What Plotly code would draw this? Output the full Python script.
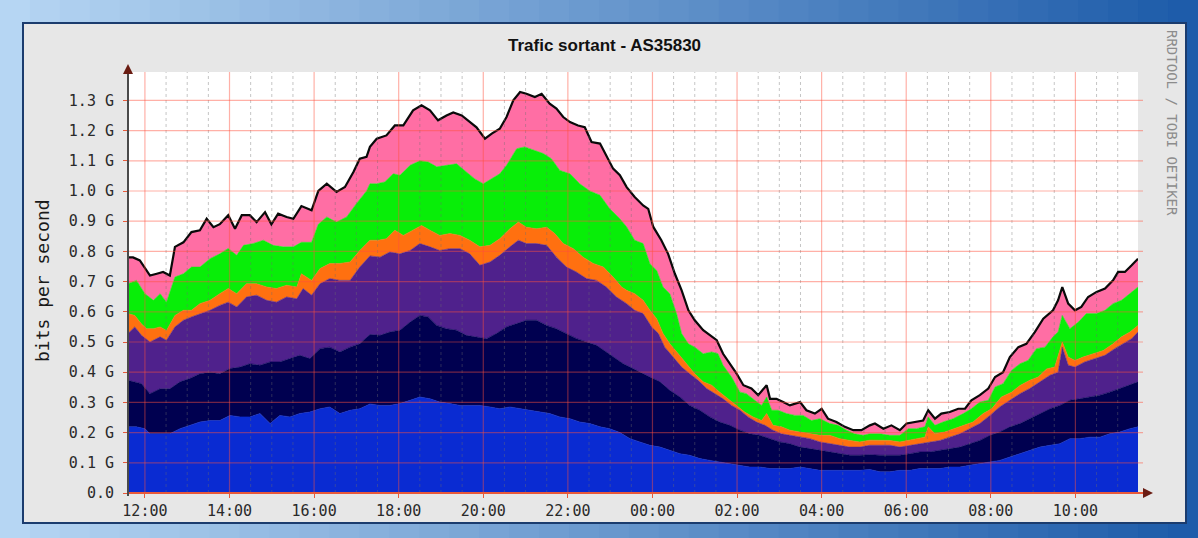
import plotly.graph_objects as go

# ---------------- data (hours after 12:00, values in Gbit/s, cumulative stack tops) -------------
blue_x = [-0.40, -0.20, 0.00, 0.12, 0.36, 0.59, 0.83, 1.06, 1.30, 1.54, 1.77, 2.01, 2.25, 2.48, 2.72, 2.96,
          3.19, 3.43, 3.66, 3.90, 4.14, 4.37, 4.61, 4.85, 5.08, 5.32, 5.56, 5.79, 6.03, 6.27, 6.50, 6.74,
          6.97, 7.21, 7.45, 7.68, 7.92, 8.16, 8.39, 8.63, 8.87, 9.10, 9.34, 9.57, 9.81, 10.05, 10.28, 10.52,
          10.76, 10.99, 11.23, 11.47, 11.70, 11.94, 12.18, 12.41, 12.65, 12.88, 13.12, 13.36, 13.59, 13.83,
          14.07, 14.30, 14.54, 14.78, 15.01, 15.25, 15.49, 15.72, 15.96, 16.19, 16.43, 16.67, 16.90, 17.14,
          17.38, 17.61, 17.85, 18.09, 18.32, 18.56, 18.80, 19.03, 19.27, 19.50, 19.74, 19.98, 20.21, 20.45,
          20.69, 20.92, 21.16, 21.40, 21.63, 21.87, 22.10, 22.34, 22.58, 22.81, 23.05, 23.29, 23.48]
blue_y = [0.219, 0.219, 0.213, 0.196, 0.196, 0.196, 0.213, 0.224, 0.235, 0.240, 0.240, 0.257, 0.252, 0.252,
          0.263, 0.230, 0.257, 0.252, 0.263, 0.268, 0.279, 0.285, 0.263, 0.274, 0.279, 0.295, 0.290, 0.290,
          0.296, 0.307, 0.318, 0.312, 0.301, 0.296, 0.290, 0.290, 0.290, 0.285, 0.279, 0.285, 0.279, 0.274,
          0.268, 0.263, 0.252, 0.246, 0.235, 0.230, 0.219, 0.213, 0.200, 0.180, 0.169, 0.158, 0.152, 0.141,
          0.130, 0.125, 0.114, 0.108, 0.103, 0.097, 0.092, 0.086, 0.086, 0.081, 0.081, 0.081, 0.086, 0.081,
          0.075, 0.075, 0.075, 0.075, 0.075, 0.078, 0.070, 0.070, 0.075, 0.075, 0.081, 0.081, 0.081, 0.086,
          0.086, 0.092, 0.097, 0.103, 0.108, 0.119, 0.130, 0.141, 0.152, 0.158, 0.163, 0.180, 0.180, 0.185,
          0.185, 0.196, 0.202, 0.213, 0.219]

navy_x = [-0.40, -0.24, -0.08, 0.12, 0.36, 0.59, 0.83, 1.06, 1.30, 1.54, 1.77, 2.01, 2.25, 2.48, 2.72, 2.96,
          3.19, 3.43, 3.66, 3.90, 4.14, 4.37, 4.61, 4.85, 5.08, 5.32, 5.56, 5.79, 6.03, 6.27, 6.50, 6.70,
          6.90, 7.13, 7.37, 7.60, 7.84, 8.08, 8.31, 8.55, 8.79, 9.02, 9.26, 9.50, 9.73, 9.97, 10.21, 10.44,
          10.68, 10.91, 11.15, 11.31, 11.47, 11.70, 11.94, 12.18, 12.41, 12.65, 12.88, 13.12, 13.36, 13.59,
          13.83, 14.07, 14.30, 14.54, 14.78, 15.01, 15.25, 15.49, 15.72, 15.96, 16.19, 16.43, 16.67, 16.90,
          17.14, 17.38, 17.61, 17.85, 18.09, 18.32, 18.56, 18.80, 19.03, 19.27, 19.50, 19.74, 19.98, 20.21,
          20.45, 20.69, 20.92, 21.16, 21.40, 21.63, 21.87, 22.10, 22.34, 22.58, 22.81, 23.05, 23.29, 23.48]
navy_y = [0.373, 0.368, 0.362, 0.329, 0.345, 0.345, 0.368, 0.379, 0.395, 0.400, 0.395, 0.412, 0.417, 0.428,
          0.423, 0.434, 0.434, 0.445, 0.456, 0.445, 0.478, 0.483, 0.467, 0.483, 0.494, 0.525, 0.522, 0.533,
          0.539, 0.566, 0.588, 0.583, 0.555, 0.544, 0.539, 0.522, 0.517, 0.511, 0.528, 0.550, 0.561, 0.572,
          0.572, 0.555, 0.544, 0.528, 0.511, 0.500, 0.489, 0.467, 0.445, 0.428, 0.417, 0.400, 0.384, 0.368,
          0.340, 0.318, 0.290, 0.274, 0.252, 0.235, 0.224, 0.208, 0.196, 0.191, 0.180, 0.169, 0.163, 0.152,
          0.147, 0.141, 0.136, 0.130, 0.125, 0.125, 0.127, 0.125, 0.125, 0.125, 0.130, 0.136, 0.136, 0.141,
          0.147, 0.152, 0.163, 0.174, 0.191, 0.202, 0.219, 0.230, 0.246, 0.263, 0.279, 0.290, 0.307, 0.312,
          0.318, 0.324, 0.334, 0.346, 0.357, 0.368]

purple_x = [-0.40, -0.24, -0.08, 0.12, 0.36, 0.51, 0.71, 0.91, 1.10, 1.30, 1.54, 1.77, 1.97, 2.17, 2.40, 2.64,
            2.88, 3.11, 3.35, 3.59, 3.74, 3.94, 4.14, 4.37, 4.61, 4.85, 5.08, 5.32, 5.56, 5.79, 6.03, 6.27,
            6.50, 6.74, 6.97, 7.21, 7.45, 7.68, 7.92, 8.16, 8.39, 8.63, 8.83, 9.02, 9.26, 9.50, 9.73, 9.97,
            10.20, 10.44, 10.68, 10.91, 11.15, 11.39, 11.58, 11.78, 11.98, 12.14, 12.29, 12.49, 12.69, 12.88,
            13.08, 13.28, 13.48, 13.67, 13.87, 14.07, 14.26, 14.46, 14.66, 14.85, 15.05, 15.25, 15.49, 15.72,
            15.96, 16.19, 16.43, 16.67, 16.90, 17.14, 17.38, 17.61, 17.85, 18.09, 18.32, 18.56, 18.80, 19.03,
            19.27, 19.50, 19.74, 19.98, 20.21, 20.45, 20.69, 20.92, 21.16, 21.40, 21.59, 21.69, 21.83, 21.99,
            22.22, 22.46, 22.70, 22.93, 23.13, 23.33, 23.48]
purple_y = [0.528, 0.550, 0.522, 0.500, 0.517, 0.506, 0.550, 0.572, 0.583, 0.594, 0.605, 0.621, 0.632, 0.616,
            0.649, 0.655, 0.638, 0.632, 0.649, 0.643, 0.677, 0.655, 0.693, 0.710, 0.704, 0.704, 0.748, 0.785,
            0.781, 0.798, 0.792, 0.803, 0.826, 0.815, 0.803, 0.809, 0.809, 0.792, 0.754, 0.765, 0.787, 0.815,
            0.837, 0.826, 0.826, 0.820, 0.781, 0.748, 0.732, 0.710, 0.704, 0.682, 0.649, 0.627, 0.605, 0.594,
            0.550, 0.528, 0.483, 0.450, 0.417, 0.395, 0.373, 0.346, 0.329, 0.312, 0.290, 0.274, 0.252, 0.235,
            0.224, 0.208, 0.196, 0.191, 0.185, 0.180, 0.169, 0.163, 0.158, 0.152, 0.152, 0.158, 0.158, 0.158,
            0.152, 0.158, 0.163, 0.169, 0.174, 0.185, 0.196, 0.213, 0.230, 0.257, 0.285, 0.307, 0.329, 0.346,
            0.368, 0.390, 0.400, 0.483, 0.423, 0.417, 0.434, 0.445, 0.456, 0.478, 0.494, 0.511, 0.533]

orange_x = [-0.40, -0.24, -0.08, 0.04, 0.20, 0.36, 0.51, 0.71, 0.91, 1.10, 1.30, 1.54, 1.77, 1.97, 2.17, 2.40,
            2.64, 2.88, 3.11, 3.35, 3.59, 3.70, 3.94, 4.14, 4.37, 4.61, 4.85, 5.08, 5.32, 5.52, 5.71, 5.91,
            6.11, 6.34, 6.54, 6.74, 6.97, 7.21, 7.45, 7.68, 7.92, 8.16, 8.39, 8.63, 8.83, 9.02, 9.26, 9.50,
            9.69, 9.89, 10.13, 10.36, 10.60, 10.84, 11.07, 11.27, 11.39, 11.58, 11.78, 11.94, 12.10, 12.25,
            12.41, 12.61, 12.81, 13.00, 13.20, 13.40, 13.59, 13.79, 13.99, 14.18, 14.38, 14.58, 14.70, 14.85,
            15.05, 15.25, 15.48, 15.72, 15.96, 16.19, 16.43, 16.67, 16.90, 17.14, 17.38, 17.61, 17.85, 18.05,
            18.28, 18.44, 18.52, 18.68, 18.91, 19.15, 19.39, 19.58, 19.82, 20.02, 20.25, 20.49, 20.69, 20.92,
            21.12, 21.32, 21.51, 21.69, 21.83, 21.99, 22.18, 22.42, 22.66, 22.89, 23.09, 23.29, 23.48]
orange_y = [0.594, 0.588, 0.560, 0.544, 0.544, 0.550, 0.538, 0.588, 0.605, 0.605, 0.627, 0.638, 0.660, 0.677,
            0.660, 0.693, 0.693, 0.682, 0.677, 0.688, 0.682, 0.726, 0.704, 0.743, 0.760, 0.760, 0.765, 0.803,
            0.837, 0.837, 0.842, 0.870, 0.853, 0.870, 0.886, 0.870, 0.853, 0.859, 0.853, 0.837, 0.815, 0.820,
            0.842, 0.875, 0.897, 0.880, 0.875, 0.880, 0.859, 0.826, 0.809, 0.781, 0.760, 0.748, 0.715, 0.682,
            0.671, 0.660, 0.638, 0.605, 0.577, 0.528, 0.494, 0.461, 0.428, 0.395, 0.368, 0.357, 0.334, 0.312,
            0.290, 0.268, 0.252, 0.240, 0.263, 0.224, 0.219, 0.208, 0.202, 0.196, 0.191, 0.191, 0.180, 0.174,
            0.169, 0.175, 0.174, 0.174, 0.169, 0.174, 0.180, 0.185, 0.219, 0.196, 0.202, 0.213, 0.224, 0.235,
            0.263, 0.279, 0.318, 0.334, 0.356, 0.373, 0.384, 0.411, 0.417, 0.500, 0.450, 0.439, 0.450, 0.461,
            0.472, 0.494, 0.517, 0.533, 0.555]

green_x = [-0.40, -0.20, 0.00, 0.20, 0.36, 0.51, 0.71, 0.91, 1.10, 1.30, 1.54, 1.77, 1.97, 2.17, 2.33, 2.56,
           2.80, 3.03, 3.27, 3.51, 3.70, 3.94, 4.10, 4.30, 4.53, 4.77, 5.00, 5.24, 5.32, 5.48, 5.67, 5.87,
           6.03, 6.27, 6.50, 6.70, 6.90, 7.13, 7.37, 7.60, 7.80, 8.00, 8.20, 8.39, 8.55, 8.79, 8.98, 9.18,
           9.42, 9.61, 9.81, 10.05, 10.28, 10.52, 10.76, 10.99, 11.23, 11.39, 11.58, 11.78, 11.94, 12.10,
           12.25, 12.41, 12.57, 12.69, 12.85, 13.00, 13.20, 13.40, 13.55, 13.67, 13.87, 14.07, 14.22, 14.42,
           14.58, 14.70, 14.82, 14.97, 15.17, 15.37, 15.56, 15.76, 15.96, 16.19, 16.39, 16.59, 16.78, 16.98,
           17.14, 17.38, 17.61, 17.85, 18.05, 18.24, 18.44, 18.52, 18.68, 18.87, 19.11, 19.35, 19.54, 19.74,
           19.94, 20.10, 20.29, 20.49, 20.69, 20.88, 21.08, 21.28, 21.47, 21.59, 21.69, 21.87, 22.07, 22.26,
           22.50, 22.70, 22.89, 23.09, 23.29, 23.48]
green_y = [0.693, 0.704, 0.660, 0.638, 0.660, 0.632, 0.715, 0.726, 0.748, 0.748, 0.776, 0.792, 0.810, 0.787,
           0.820, 0.826, 0.837, 0.820, 0.815, 0.815, 0.830, 0.830, 0.890, 0.914, 0.897, 0.914, 0.958, 1.000,
           1.024, 1.024, 1.030, 1.057, 1.052, 1.085, 1.100, 1.096, 1.080, 1.085, 1.090, 1.063, 1.040, 1.024,
           1.040, 1.057, 1.085, 1.140, 1.146, 1.135, 1.124, 1.107, 1.068, 1.057, 1.024, 1.000, 0.986, 0.941,
           0.908, 0.881, 0.837, 0.826, 0.759, 0.737, 0.682, 0.660, 0.594, 0.528, 0.494, 0.483, 0.461, 0.467,
           0.461, 0.423, 0.384, 0.334, 0.329, 0.307, 0.290, 0.318, 0.274, 0.274, 0.263, 0.257, 0.257, 0.240,
           0.246, 0.230, 0.224, 0.208, 0.196, 0.191, 0.196, 0.196, 0.191, 0.191, 0.213, 0.213, 0.219, 0.252,
           0.224, 0.235, 0.246, 0.263, 0.279, 0.301, 0.307, 0.351, 0.362, 0.406, 0.428, 0.439, 0.478, 0.483,
           0.517, 0.533, 0.588, 0.544, 0.566, 0.594, 0.594, 0.605, 0.627, 0.638, 0.660, 0.682]

total_x = [-0.40, -0.28, -0.12, 0.00, 0.12, 0.28, 0.43, 0.59, 0.71, 0.91, 1.10, 1.30, 1.46, 1.62, 1.77, 1.97,
           2.13, 2.29, 2.48, 2.64, 2.84, 2.99, 3.15, 3.35, 3.51, 3.70, 3.94, 4.10, 4.30, 4.53, 4.73, 4.93,
           5.08, 5.24, 5.32, 5.48, 5.71, 5.91, 6.11, 6.34, 6.54, 6.74, 6.93, 7.13, 7.29, 7.49, 7.68, 7.84,
           8.04, 8.20, 8.39, 8.55, 8.71, 8.87, 9.02, 9.22, 9.38, 9.57, 9.73, 9.89, 10.05, 10.24, 10.40, 10.56,
           10.76, 10.91, 11.07, 11.23, 11.39, 11.58, 11.78, 11.90, 12.02, 12.21, 12.37, 12.53, 12.69, 12.85,
           13.00, 13.20, 13.36, 13.52, 13.67, 13.83, 13.99, 14.15, 14.34, 14.50, 14.70, 14.78, 14.93, 15.09,
           15.25, 15.49, 15.64, 15.84, 16.00, 16.15, 16.35, 16.55, 16.75, 16.94, 17.14, 17.26, 17.46, 17.65,
           17.85, 18.01, 18.24, 18.40, 18.52, 18.68, 18.83, 19.03, 19.23, 19.39, 19.54, 19.74, 19.94, 20.10,
           20.29, 20.45, 20.65, 20.84, 21.04, 21.24, 21.47, 21.59, 21.69, 21.83, 21.99, 22.14, 22.30, 22.50,
           22.70, 22.89, 23.01, 23.17, 23.33, 23.48]
total_y = [0.780, 0.780, 0.770, 0.743, 0.720, 0.726, 0.732, 0.720, 0.815, 0.830, 0.864, 0.870, 0.908, 0.880,
           0.890, 0.920, 0.875, 0.920, 0.920, 0.897, 0.930, 0.890, 0.925, 0.914, 0.908, 0.950, 0.936, 1.000,
           1.024, 0.997, 1.013, 1.063, 1.107, 1.113, 1.146, 1.173, 1.184, 1.217, 1.217, 1.267, 1.284, 1.267,
           1.234, 1.250, 1.260, 1.250, 1.228, 1.211, 1.173, 1.190, 1.206, 1.245, 1.300, 1.328, 1.322, 1.311,
           1.322, 1.289, 1.273, 1.245, 1.228, 1.217, 1.211, 1.162, 1.157, 1.118, 1.074, 1.052, 1.013, 0.980,
           0.952, 0.941, 0.881, 0.837, 0.792, 0.726, 0.671, 0.605, 0.572, 0.539, 0.522, 0.506, 0.461, 0.428,
           0.395, 0.357, 0.346, 0.324, 0.357, 0.312, 0.312, 0.301, 0.290, 0.301, 0.274, 0.263, 0.279, 0.246,
           0.235, 0.219, 0.208, 0.208, 0.224, 0.230, 0.213, 0.224, 0.208, 0.230, 0.235, 0.240, 0.274, 0.246,
           0.263, 0.268, 0.279, 0.279, 0.307, 0.324, 0.346, 0.384, 0.400, 0.450, 0.483, 0.494, 0.533, 0.577,
           0.605, 0.638, 0.682, 0.627, 0.605, 0.616, 0.649, 0.666, 0.677, 0.704, 0.732, 0.732, 0.754, 0.776]

x_tick_vals = [0, 2, 4, 6, 8, 10, 12, 14, 16, 18, 20, 22]
x_tick_text = ["12:00", "14:00", "16:00", "18:00", "20:00", "22:00",
               "00:00", "02:00", "04:00", "06:00", "08:00", "10:00"]
y_tick_vals = [0.0, 0.1, 0.2, 0.3, 0.4, 0.5, 0.6, 0.7, 0.8, 0.9, 1.0, 1.1, 1.2, 1.3]
y_tick_text = ["0.0", "0.1 G", "0.2 G", "0.3 G", "0.4 G", "0.5 G", "0.6 G", "0.7 G",
               "0.8 G", "0.9 G", "1.0 G", "1.1 G", "1.2 G", "1.3 G"]

title_text = "Trafic sortant - AS35830"
y_label = "bits per second"
side_label = "RRDTOOL / TOBI OETIKER"

# ---------------- layout geometry ----------------
W, H = 1198, 538
PL, PR, PT, PB = 128, 1138, 72, 493
X_RANGE = [-0.40, 23.48]
Y_RANGE = [0, (PB - PT) / 302.0]


def fx(px):
    return (px - PL) / (PR - PL)


def fy(py):
    return (PB - py) / (PB - PT)


layers = [
    (blue_x, blue_y, "#0a2bd2", "tozeroy"),
    (navy_x, navy_y, "#000050", "tonexty"),
    (purple_x, purple_y, "#4f218c", "tonexty"),
    (orange_x, orange_y, "#ff7010", "tonexty"),
    (green_x, green_y, "#08ee08", "tonexty"),
]

fig = go.Figure()
for xs, ys, col, fillmode in layers:
    fig.add_trace(go.Scatter(x=xs, y=ys, mode="lines", fill=fillmode, fillcolor=col,
                             line=dict(width=0.6, color=col), hoverinfo="skip", showlegend=False))
fig.add_trace(go.Scatter(x=total_x, y=total_y, mode="lines", fill="tonexty", fillcolor="#ff6ea4",
                         line=dict(width=2.2, color="#0a0a0a"), hoverinfo="skip", showlegend=False))

shapes = []
# blue gradient frame
n = 40
c0, c1 = (182, 214, 243), (30, 92, 170)
for i in range(n):
    f = i / (n - 1)
    col = "rgb(%d,%d,%d)" % tuple(int(a + (b - a) * f) for a, b in zip(c0, c1))
    x0 = i * W / n
    shapes.append(dict(type="rect", xref="paper", yref="paper", x0=fx(x0), x1=fx(x0 + W / n + 1),
                       y0=fy(H), y1=fy(0), fillcolor=col, line=dict(width=0), layer="below"))
# gray canvas
shapes.append(dict(type="rect", xref="paper", yref="paper", x0=fx(23), x1=fx(1186), y0=fy(523), y1=fy(23),
                   fillcolor="#e7e7e7", line=dict(color="#1b3c6e", width=2), layer="below"))
# white plot area
shapes.append(dict(type="rect", xref="paper", yref="paper", x0=0, x1=1, y0=0, y1=1,
                   fillcolor="white", line=dict(width=0), layer="below"))

# grid drawn above the areas (as rrdtool does)
h = 0.5
while h < X_RANGE[1]:
    if abs(h - round(h / 2) * 2) > 1e-6:
        shapes.append(dict(type="line", xref="x", yref="paper", x0=h, x1=h, y0=0, y1=1,
                           line=dict(color="rgba(110,110,110,0.4)", width=1, dash="dot"), layer="above"))
    h += 0.5
for v in x_tick_vals:
    shapes.append(dict(type="line", xref="x", yref="paper", x0=v, x1=v, y0=0, y1=1,
                       line=dict(color="rgba(255,80,60,0.45)", width=1.2), layer="above"))
for v in y_tick_vals[1:]:
    shapes.append(dict(type="line", xref="paper", yref="y", x0=0, x1=fx(1143), y0=v, y1=v,
                       line=dict(color="rgba(255,80,60,0.45)", width=1.2), layer="above"))
# axis lines
shapes.append(dict(type="line", xref="paper", yref="paper", x0=fx(128), x1=fx(1150), y0=0, y1=0,
                   line=dict(color="#e8593a", width=2), layer="above"))
shapes.append(dict(type="line", xref="paper", yref="paper", x0=0, x1=0, y0=fy(496), y1=fy(68),
                   line=dict(color="#4a4a4a", width=2), layer="above"))

annotations = [
    dict(xref="paper", yref="paper", x=fx(1153), y=0, ax=-9, ay=0, text="", showarrow=True,
         arrowhead=2, arrowsize=1, arrowwidth=2, arrowcolor="#6a1c12"),
    dict(xref="paper", yref="paper", x=0, y=fy(64), ax=0, ay=9, text="", showarrow=True,
         arrowhead=2, arrowsize=1, arrowwidth=2, arrowcolor="#6a1c12"),
    dict(xref="paper", yref="paper", x=fx(604), y=fy(45), text="<b>%s</b>" % title_text, showarrow=False,
         font=dict(family="Liberation Sans", size=17, color="#111111"), xanchor="center", yanchor="middle"),
    dict(xref="paper", yref="paper", x=fx(42), y=fy(281), text=y_label, showarrow=False, textangle=-90,
         font=dict(family="DejaVu Sans Mono", size=18, color="#1a1a1a"), xanchor="center", yanchor="middle"),
    dict(xref="paper", yref="paper", x=fx(1172), y=fy(123), text=side_label, showarrow=False, textangle=90,
         font=dict(family="DejaVu Sans Mono", size=14, color="#8c8c8c"), xanchor="center", yanchor="middle"),
]

fig.update_layout(
    width=W, height=H,
    margin=dict(l=PL, r=W - PR, t=PT, b=H - PB, pad=0),
    paper_bgcolor="#6a9bd6", plot_bgcolor="white",
    shapes=shapes, annotations=annotations, showlegend=False,
    xaxis=dict(range=X_RANGE, tickvals=x_tick_vals, ticktext=x_tick_text, showgrid=False, zeroline=False,
               ticks="outside", ticklen=4, tickcolor="#e8593a", showline=False,
               tickfont=dict(family="DejaVu Sans Mono", size=15, color="#2a2a2a")),
    yaxis=dict(range=Y_RANGE, tickvals=y_tick_vals, ticktext=y_tick_text, showgrid=False, zeroline=False,
               ticks="outside", ticklen=4, tickcolor="#e8593a", showline=False, ticklabelstandoff=6,
               tickfont=dict(family="DejaVu Sans Mono", size=15, color="#2a2a2a")),
)

fig.write_html("out.html", config={"displayModeBar": False},
               post_script="document.body.style.margin='0';")
